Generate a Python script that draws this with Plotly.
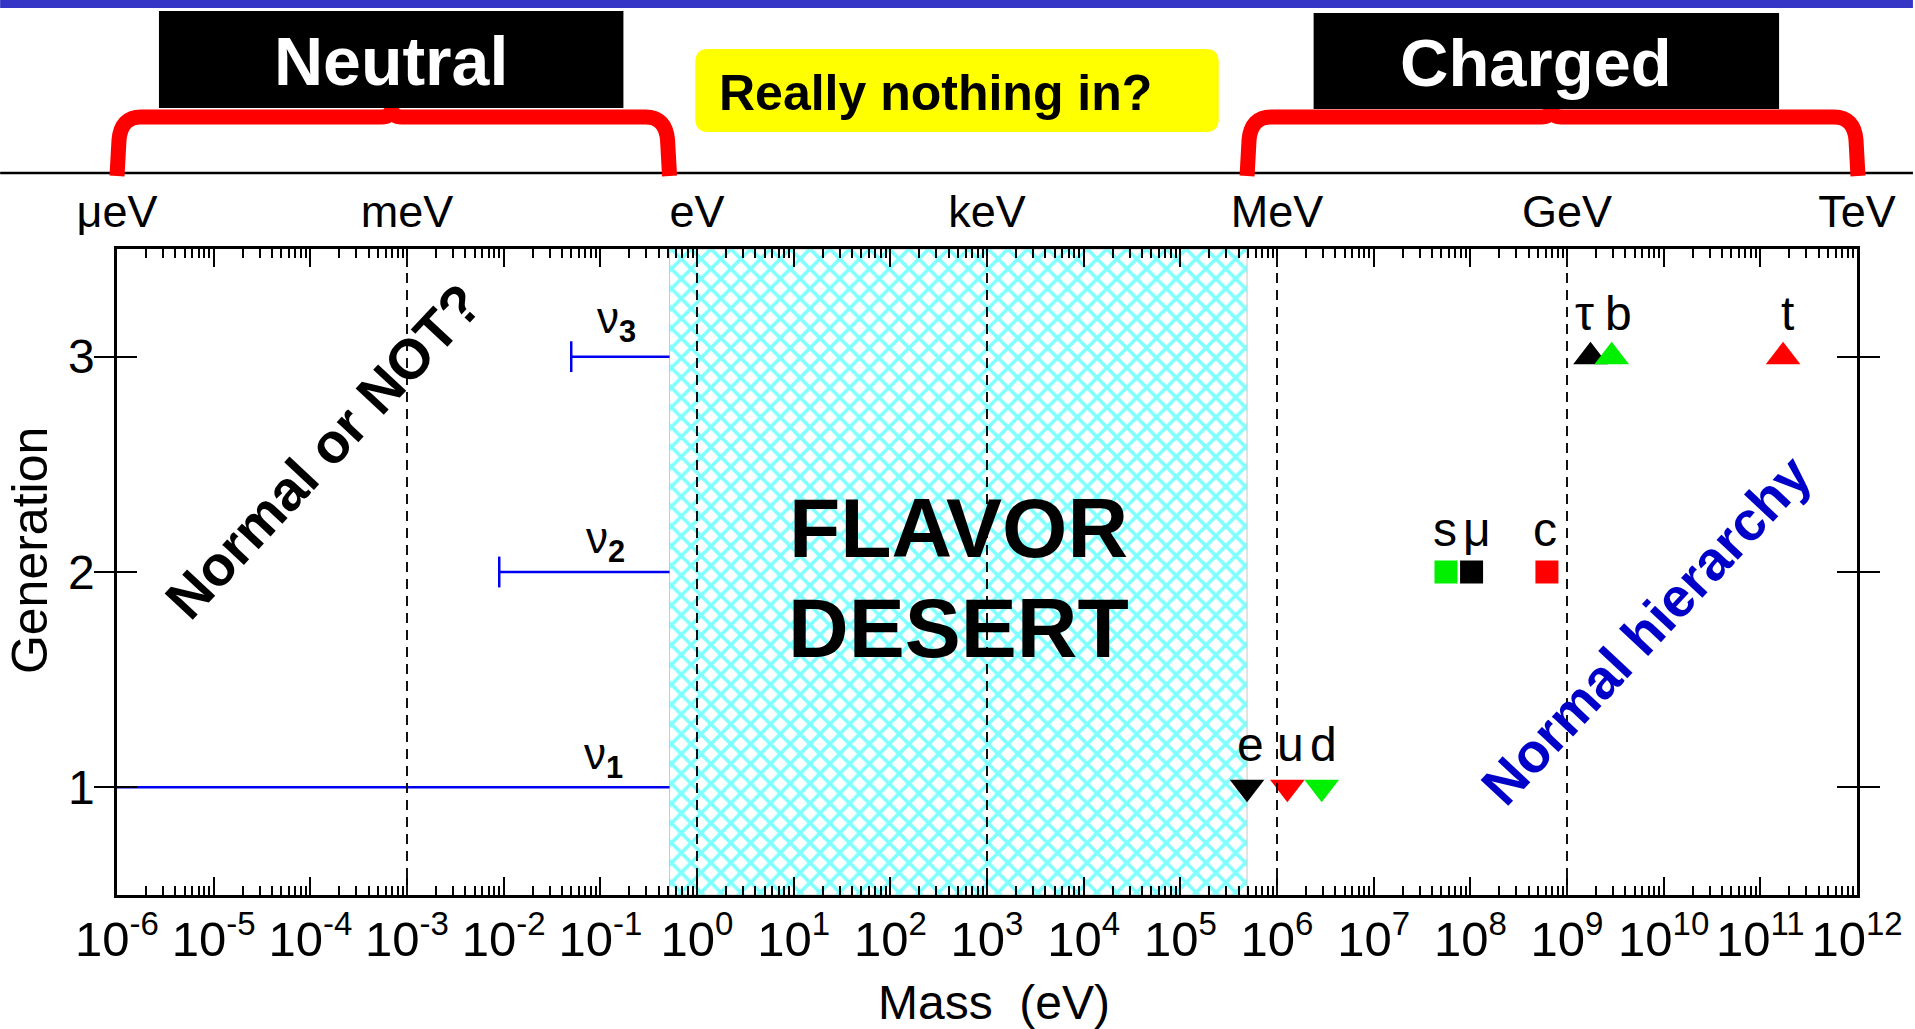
import numpy as np
import plotly.graph_objects as go

# ---------------- data ----------------
generations = [1, 2, 3]
gen_symbols = ["triangle-down", "square", "triangle-up"]

# charged fermion masses (eV), generation 1..3
lepton_names = ["e", "μ", "τ"]
lepton_mass = [4.9e5, 1.03e8, 1.75e9]
up_names = ["u", "c", "t"]
up_mass = [1.28e6, 6.2e8, 1.72e11]
down_names = ["d", "s", "b"]
down_mass = [2.9e6, 5.6e7, 2.9e9]

# neutrino mass ranges (eV): lower limits and common upper limit
nu_names = ["ν<sub><b>1</b></sub>", "ν<sub><b>2</b></sub>", "ν<sub><b>3</b></sub>"]
nu_lower = [1e-6, 0.009, 0.05]
nu_upper = [0.52, 0.52, 0.52]

# the empty band between the heaviest neutrino bound and the electron
desert_lo = 0.52
desert_hi = 4.9e5

decade_exp = list(range(-6, 13))
x_tickvals = [10.0 ** k for k in decade_exp]
x_ticktext = [f"10<sup><span style='font-size:33px'>{k}</span></sup>" for k in decade_exp]
unit_vals = [1e-6, 1e-3, 1.0, 1e3, 1e6, 1e9, 1e12]
unit_text = ["μeV", "meV", "eV", "keV", "MeV", "GeV", "TeV"]
dashed_at = [1e-3, 1.0, 1e3, 1e6, 1e9]

# ---------------- page geometry (pixels) ----------------
W, H = 1915, 1029
L, R, T, B = 117, 1859, 249, 895
XMIN, XMAX = -6, 12
FONT = "Liberation Sans, Arial, Helvetica, sans-serif"


def xp(px):
    return (px - L) / (R - L)


def yp(py):
    return (B - py) / (B - T)


def px_of(v):
    return L + (np.log10(v) - XMIN) / (XMAX - XMIN) * (R - L)


fig = go.Figure()

# hatched desert band
fig.add_trace(go.Scatter(
    x=[desert_lo, desert_hi, desert_hi, desert_lo, desert_lo],
    y=[0.5, 0.5, 3.5, 3.5, 0.5],
    mode="lines", fill="toself",
    line=dict(color="#C8C8C8", width=1),
    fillcolor="rgba(0,0,0,0)",
    fillpattern=dict(shape="x", fgcolor="#00FFFF", bgcolor="white",
                     size=14, solidity=0.45),
    hoverinfo="skip",
))

# neutrino mass ranges
for lo, hi, g in zip(nu_lower, nu_upper, generations):
    fig.add_trace(go.Scatter(x=[lo, hi], y=[g, g], mode="lines",
                             line=dict(color="#0000F0", width=2.5),
                             hoverinfo="skip"))
fig.add_trace(go.Scatter(
    x=nu_lower[1:], y=generations[1:], mode="markers",
    marker=dict(symbol="line-ns", size=22, line=dict(color="#0000F0", width=2.5)),
    hoverinfo="skip"))

# charged fermions
for masses, color in [(lepton_mass, "black"), (up_mass, "#FF0000"), (down_mass, "#00F000")]:
    fig.add_trace(go.Scatter(
        x=masses, y=generations, mode="markers",
        marker=dict(symbol=gen_symbols, size=[30, 23, 30], color=color,
                    opacity=1, line=dict(width=0)),
        hoverinfo="skip"))

# empty trace to carry the top unit axis
fig.add_trace(go.Scatter(x=[], y=[], xaxis="x2", yaxis="y"))

shapes = []
# vertical dashed decade markers
for v in dashed_at:
    shapes.append(dict(type="line", xref="x", yref="paper", x0=v, x1=v, y0=0, y1=1,
                       line=dict(color="#111111", width=2, dash="10px,7px")))

# blue band along the top of the page
shapes.append(dict(type="rect", xref="paper", yref="paper",
                   x0=xp(0), x1=xp(W), y0=yp(8), y1=yp(0),
                   fillcolor="#3535C6", line=dict(width=0)))
# separator line
shapes.append(dict(type="line", xref="paper", yref="paper",
                   x0=xp(0), x1=xp(W), y0=yp(173), y1=yp(173),
                   line=dict(color="black", width=2.5)))


def brace(xl, xr, xm, ytop=117, ybot=176):
    pts = [("M", [(xl, ybot)]),
           ("L", [(xl + 2, 140)]),
           ("Q", [(xl + 4, ytop), (xl + 24, ytop)]),
           ("L", [(xm - 10, ytop)]),
           ("Q", [(xm - 2, ytop), (xm, ytop - 7)]),
           ("Q", [(xm + 2, ytop), (xm + 10, ytop)]),
           ("L", [(xr - 24, ytop)]),
           ("Q", [(xr - 4, ytop), (xr - 2, 140)]),
           ("L", [(xr, ybot)])]
    out = []
    for cmd, coords in pts:
        out.append(cmd + " ".join(f"{xp(a):.5f},{yp(b):.5f}" for a, b in coords))
    return " ".join(out)


shapes.append(dict(type="path", xref="paper", yref="paper",
                   path=brace(px_of(1e-6), px_of(desert_lo), 392),
                   line=dict(color="#FF0000", width=15)))
shapes.append(dict(type="path", xref="paper", yref="paper",
                   path=brace(px_of(desert_hi), px_of(1e12) + 1, 1553),
                   line=dict(color="#FF0000", width=15)))

# black header boxes
for x0, x1, y0, y1 in [(159, 624, 11, 108), (1315, 1781, 13, 109)]:
    shapes.append(dict(type="rect", xref="paper", yref="paper",
                       x0=xp(x0), x1=xp(x1), y0=yp(y1), y1=yp(y0),
                       fillcolor="black", line=dict(width=0)))


def rounded_box(x0, y0, x1, y1, r):
    def P(a, b):
        return f"{xp(a):.5f},{yp(b):.5f}"
    return (f"M{P(x0 + r, y0)} L{P(x1 - r, y0)} Q{P(x1, y0)} {P(x1, y0 + r)} "
            f"L{P(x1, y1 - r)} Q{P(x1, y1)} {P(x1 - r, y1)} L{P(x0 + r, y1)} "
            f"Q{P(x0, y1)} {P(x0, y1 - r)} L{P(x0, y0 + r)} Q{P(x0, y0)} {P(x0 + r, y0)} Z")


shapes.append(dict(type="path", xref="paper", yref="paper",
                   path=rounded_box(696, 49, 1220, 132, 13),
                   fillcolor="#FFFF00", line=dict(width=0)))

annotations = []


def text_at(px, py, text, size, color="black", bold=False, angle=0):
    if bold:
        text = f"<b>{text}</b>"
    annotations.append(dict(xref="paper", yref="paper", x=xp(px), y=yp(py),
                            text=text, showarrow=False, textangle=angle,
                            xanchor="center", yanchor="middle",
                            font=dict(family=FONT, size=size, color=color)))


text_at(391, 61, "Neutral", 68, "white", True)
text_at(1538, 62, "Charged", 67, "white", True)
text_at(936, 93, "Really nothing in?", 50, "black", True)
text_at(959, 528, "FLAVOR", 84, "black", True)
text_at(959, 628, "DESERT", 84, "black", True)
text_at(323, 451, "Normal or NOT?", 56, "black", True, -47)
text_at(1648, 630, "Normal hierarchy", 55, "#0000C8", True, -47)
text_at(30, 551, "Generation", 50, "black", False, -90)
text_at(995, 1002, "Mass\u00a0 (eV)", 48)

# neutrino labels
for (px, py), name in zip([(604, 757), (606, 541), (617, 321)], nu_names):
    text_at(px, py, name, 44)

# particle labels above markers
label_dx = {"e": 3, "u": 3, "d": 2, "s": -1, "μ": 5, "c": -2, "τ": -6, "b": 7, "t": 4}
for names, masses in [(lepton_names, lepton_mass), (up_names, up_mass), (down_names, down_mass)]:
    for n, m, g in zip(names, masses, generations):
        annotations.append(dict(xref="x", yref="y", x=np.log10(m), y=g, text=n,
                                showarrow=False, yshift=43, xshift=label_dx[n],
                                font=dict(family=FONT, size=48, color="black")))

fig.update_layout(
    width=W, height=H,
    margin=dict(l=L, r=W - R, t=T, b=H - B, pad=0),
    paper_bgcolor="white", plot_bgcolor="white",
    showlegend=False,
    shapes=shapes, annotations=annotations,
    xaxis=dict(type="log", range=[XMIN, XMAX],
               tickmode="array", tickvals=x_tickvals, ticktext=x_ticktext,
               ticks="inside", ticklen=18, tickwidth=2, tickcolor="black",
               minor=dict(dtick="D1", ticks="inside", ticklen=9, tickwidth=1.5,
                          tickcolor="black", showgrid=False),
               showline=True, linewidth=2.5, linecolor="black", mirror="allticks",
               showgrid=False, zeroline=False, tickangle=0,
               tickfont=dict(family=FONT, size=49, color="black"),
               ticklabelstandoff=-1),
    xaxis2=dict(type="log", range=[XMIN, XMAX], overlaying="x", side="top",
                anchor="y", tickmode="array", tickvals=unit_vals, ticktext=unit_text,
                ticks="", showline=False, showgrid=False, zeroline=False,
                tickfont=dict(family=FONT, size=45, color="black"),
                ticklabelstandoff=12),
    yaxis=dict(range=[0.5, 3.5], tickmode="array", tickvals=generations,
               ticks="inside", ticklen=20, tickwidth=2, tickcolor="black",
               showline=True, linewidth=2.5, linecolor="black", mirror="allticks",
               showgrid=False, zeroline=False,
               tickfont=dict(family=FONT, size=48, color="black"),
               ticklabelstandoff=10),
)

fig.write_html("out.html")
